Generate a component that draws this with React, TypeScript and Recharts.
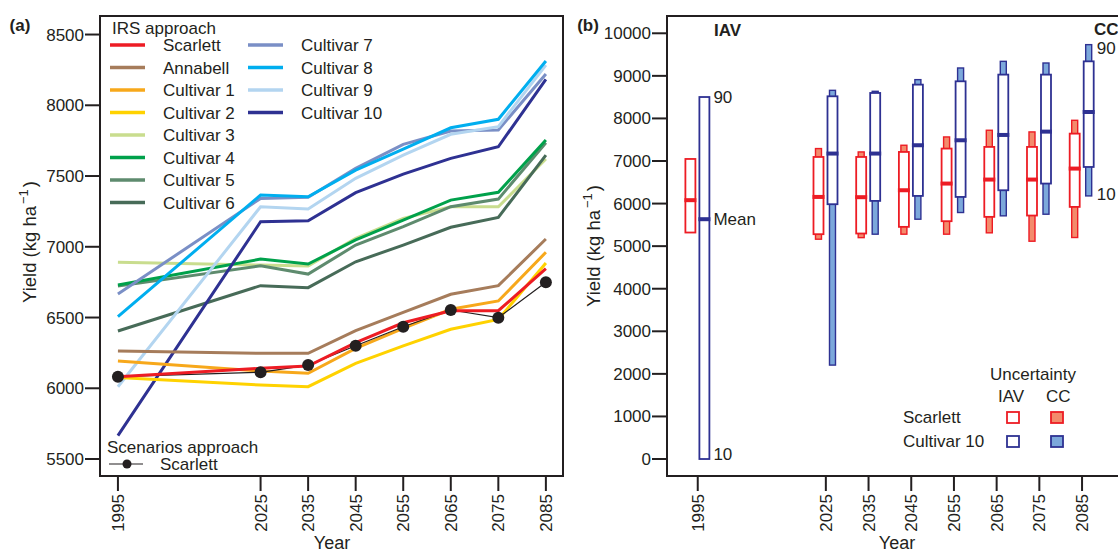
import {
  Bar,
  ComposedChart,
  Legend,
  Line,
  LineChart,
  ReferenceArea,
  XAxis,
  YAxis,
} from 'recharts'

const ink = '#231f20'
const font = '"Liberation Sans", Arial, Helvetica, sans-serif'

const years = [1995, 2025, 2035, 2045, 2055, 2065, 2075, 2085]

// IRS approach, yield per cultivar (kg/ha)
const scarlett = [6082, 6141, 6157, 6322, 6463, 6548, 6548, 6845]
const annabell = [6263, 6247, 6247, 6407, 6537, 6664, 6725, 7055]
const cultivar1 = [6193, 6122, 6106, 6282, 6424, 6558, 6617, 6961]
const cultivar2 = [6077, 6023, 6011, 6176, 6299, 6417, 6487, 6885]
const cultivar3 = [6890, 6871, 6864, 7060, 7201, 7283, 7283, 7620]
const cultivar4 = [6730, 6913, 6878, 7048, 7189, 7330, 7385, 7754]
const cultivar5 = [6722, 6866, 6807, 7012, 7142, 7283, 7337, 7735]
const cultivar6 = [6405, 6725, 6711, 6894, 7012, 7138, 7208, 7648]
const cultivar7 = [6666, 7342, 7350, 7554, 7724, 7818, 7825, 8221]
const cultivar8 = [6506, 7366, 7354, 7542, 7691, 7841, 7901, 8313]
const cultivar9 = [6011, 7283, 7267, 7484, 7648, 7795, 7849, 8284]
const cultivar10 = [5665, 7177, 7184, 7382, 7514, 7625, 7707, 8183]

// scenarios approach, Scarlett
const scenarioScarlett = [6082, 6113, 6164, 6301, 6435, 6553, 6499, 6749]

// uncertainty ranges (10th / 90th percentile) and means
const scarlettIavLow = [5320, 5281, 5297, 5453, 5586, 5688, 5719, 5922]
const scarlettIavHigh = [7048, 7095, 7095, 7213, 7292, 7331, 7331, 7643]
const scarlettMean = [6080, 6156, 6150, 6313, 6470, 6564, 6564, 6822]
const scarlettCcLow = [null, 5163, 5200, 5281, 5281, 5313, 5116, 5203]
const scarlettCcHigh = [null, 7292, 7213, 7370, 7565, 7722, 7683, 7956]

const c10IavLow = [0, 5985, 6063, 6180, 6156, 6313, 6470, 6860]
const c10IavHigh = [8503, 8520, 8598, 8794, 8872, 9029, 9029, 9341]
const c10Mean = [5633, 7175, 7175, 7370, 7487, 7612, 7690, 8151]
const c10CcLow = [null, 2206, 5281, 5633, 5790, 5712, 5750, 6180]
const c10CcHigh = [null, 8660, 8637, 8911, 9185, 9341, 9302, 9733]

const yieldTicksA = [5500, 6000, 6500, 7000, 7500, 8000, 8500]
const yieldTicksB = [0, 1000, 2000, 3000, 4000, 5000, 6000, 7000, 8000, 9000, 10000]

const series = [
  { key: 'scarlett', name: 'Scarlett', color: '#ed1c24', values: scarlett },
  { key: 'annabell', name: 'Annabell', color: '#a67c5b', values: annabell },
  { key: 'cultivar1', name: 'Cultivar 1', color: '#f7a81b', values: cultivar1 },
  { key: 'cultivar2', name: 'Cultivar 2', color: '#ffd200', values: cultivar2 },
  { key: 'cultivar3', name: 'Cultivar 3', color: '#c9dd8e', values: cultivar3 },
  { key: 'cultivar4', name: 'Cultivar 4', color: '#00a14b', values: cultivar4 },
  { key: 'cultivar5', name: 'Cultivar 5', color: '#5e8b6e', values: cultivar5 },
  { key: 'cultivar6', name: 'Cultivar 6', color: '#476b58', values: cultivar6 },
  { key: 'cultivar7', name: 'Cultivar 7', color: '#7a8fc6', values: cultivar7 },
  { key: 'cultivar8', name: 'Cultivar 8', color: '#00aeef', values: cultivar8 },
  { key: 'cultivar9', name: 'Cultivar 9', color: '#b3d5f0', values: cultivar9 },
  { key: 'cultivar10', name: 'Cultivar 10', color: '#2e3192', values: cultivar10 },
]
const drawOrder = [
  'cultivar3', 'cultivar5', 'cultivar6', 'cultivar4', 'cultivar7', 'cultivar9',
  'cultivar8', 'cultivar10', 'annabell', 'cultivar1', 'cultivar2',
]

const lineRows = years.map((year, i) => {
  const row: Record<string, number> = { year, scenario: scenarioScarlett[i] }
  series.forEach((s) => (row[s.key] = s.values[i]))
  return row
})

const boxRows = years.map((year, i) => ({
  year,
  sIav: [scarlettIavLow[i], scarlettIavHigh[i]],
  sMean: scarlettMean[i],
  sCc: scarlettCcLow[i] == null ? null : [scarlettCcLow[i], scarlettCcHigh[i]],
  cIav: [c10IavLow[i], c10IavHigh[i]],
  cMean: c10Mean[i],
  cCc: c10CcLow[i] == null ? null : [c10CcLow[i], c10CcHigh[i]],
}))

const tones = {
  s: { line: '#ed1c24', fill: '#f38b6c' },
  c: { line: '#2e3192', fill: '#7ca8db' },
}

const YearTick = ({ x, y, payload }: any) => (
  <text
    x={x}
    y={y}
    transform={`rotate(-90 ${x} ${y})`}
    textAnchor="end"
    dy="0.36em"
    fontSize={17}
    fill={ink}
    fontFamily={font}
  >
    {payload.value}
  </text>
)

const axisStroke = { stroke: ink, strokeWidth: 2 }
const tickText = { fontSize: 17, fill: ink, fontFamily: font }

// box = IAV range, thin filled bar behind it = CC range, thick bar = mean
function makeBox(prefix: 's' | 'c') {
  const tone = tones[prefix]
  return (props: any) => {
    const { x, y, width, height, payload, index } = props
    const [lo, hi] = payload[prefix + 'Iav']
    const k = height / (hi - lo)
    const py = (v: number) => y + (hi - v) * k
    const cx = x + width / 2
    const cc = payload[prefix + 'Cc']
    const mean = payload[prefix + 'Mean']
    const last = index === years.length - 1
    return (
      <g>
        {cc && (
          <rect
            x={cx - 3}
            y={py(cc[1])}
            width={6}
            height={py(cc[0]) - py(cc[1])}
            fill={tone.fill}
            stroke={tone.line}
            strokeWidth={1.4}
          />
        )}
        <rect
          x={x + 1}
          y={y}
          width={width - 2}
          height={height}
          fill="#fff"
          stroke={tone.line}
          strokeWidth={1.8}
        />
        <rect x={x} y={py(mean) - 2} width={width} height={4} fill={tone.line} />
        {prefix === 'c' && index === 0 && (
          <g fontSize={17} fill={ink} fontFamily={font}>
            <text x={x + width + 3} y={py(hi)} dy="0.36em">90</text>
            <text x={x + width + 3} y={py(mean)} dy="0.36em">Mean</text>
            <text x={x + width + 3} y={py(lo) - 5} dy="0.36em">10</text>
          </g>
        )}
        {prefix === 'c' && last && cc && (
          <g fontSize={17} fill={ink} fontFamily={font}>
            <text x={x + width + 2} y={py(cc[1]) + 3} dy="0.36em">90</text>
            <text x={x + width + 2} y={py(cc[0]) - 2} dy="0.36em">10</text>
          </g>
        )}
      </g>
    )
  }
}

function IrsLegend() {
  const col1 = series.slice(0, 8)
  const col2 = series.slice(8)
  const rowY = (i: number) => 45 + i * 22.5
  return (
    <svg width={580} height={554} style={{ display: 'block' }} fontFamily={font} fontSize={17} fill={ink}>
      <text x={112} y={28} dy="0.36em">IRS approach</text>
      {col1.map((s, i) => (
        <g key={s.key}>
          <line x1={110} x2={145} y1={rowY(i)} y2={rowY(i)} stroke={s.color} strokeWidth={3.5} />
          <text x={163} y={rowY(i)} dy="0.36em">{s.name}</text>
        </g>
      ))}
      {col2.map((s, i) => (
        <g key={s.key}>
          <line x1={248} x2={283} y1={rowY(i)} y2={rowY(i)} stroke={s.color} strokeWidth={3.5} />
          <text x={301} y={rowY(i)} dy="0.36em">{s.name}</text>
        </g>
      ))}
      <text x={107} y={447} dy="0.36em">Scenarios approach</text>
      <line x1={109} x2={143} y1={464} y2={464} stroke={ink} strokeWidth={1.2} />
      <circle cx={127} cy={464} r={4.5} fill={ink} />
      <text x={160} y={464} dy="0.36em">Scarlett</text>
    </svg>
  )
}

function UncertaintyLegend() {
  const ox = 580
  return (
    <svg width={560} height={554} style={{ display: 'block' }} fontFamily={font} fontSize={17} fill={ink}>
      <text x={714 - ox} y={30} dy="0.36em" fontWeight="bold">IAV</text>
      <text x={1094 - ox} y={29} dy="0.36em" fontWeight="bold">CC</text>
      <text x={990 - ox} y={374} dy="0.36em">Uncertainty</text>
      <text x={998 - ox} y={396} dy="0.36em">IAV</text>
      <text x={1046 - ox} y={396} dy="0.36em">CC</text>
      <text x={903 - ox} y={417} dy="0.36em">Scarlett</text>
      <text x={903 - ox} y={441} dy="0.36em">Cultivar 10</text>
      <rect x={1007 - ox} y={412} width={12} height={11} fill="#fff" stroke={tones.s.line} strokeWidth={1.8} />
      <rect x={1051 - ox} y={412} width={12} height={11} fill={tones.s.fill} stroke={tones.s.line} strokeWidth={1.8} />
      <rect x={1007 - ox} y={436} width={12} height={11} fill="#fff" stroke={tones.c.line} strokeWidth={1.8} />
      <rect x={1051 - ox} y={436} width={12} height={11} fill={tones.c.fill} stroke={tones.c.line} strokeWidth={1.8} />
    </svg>
  )
}

function Note({ x, y, children, bold, rotate, size = 17 }: any) {
  return (
    <div
      style={{
        position: 'absolute',
        left: x,
        top: y,
        transform: `translate(-50%, -50%)${rotate ? ' rotate(-90deg)' : ''}`,
        whiteSpace: 'nowrap',
        fontFamily: font,
        fontSize: size,
        fontWeight: bold ? 'bold' : 'normal',
        color: ink,
        lineHeight: 1,
      }}
    >
      {children}
    </div>
  )
}

const yieldLabel = (
  <>
    Yield (kg ha
    <sup style={{ fontSize: 13, verticalAlign: '0.65em', lineHeight: 0, margin: '0 2px' }}>−1</sup>)
  </>
)

const xDomA: [number, number] = [1991.23, 2088.6]
const yDomA: [number, number] = [5380, 8631]
const xDomB: [number, number] = [1987.8, 2095.06]
const yDomB: [number, number] = [-399, 10406]

export default function App() {
  const byKey = Object.fromEntries(series.map((s) => [s.key, s]))
  return (
    <div
      style={{
        position: 'absolute',
        left: 0,
        top: 0,
        width: 1118,
        height: 554,
        overflow: 'hidden',
        background: '#fff',
      }}
    >
      <div style={{ position: 'absolute', left: 0, top: 0 }}>
        <LineChart
          width={580}
          height={554}
          data={lineRows}
          margin={{ top: 16, right: 17, bottom: 0, left: 0 }}
          style={{ fontFamily: font }}
        >
          <XAxis
            dataKey="year"
            type="number"
            domain={xDomA}
            ticks={years}
            interval={0}
            height={78}
            tickSize={15}
            tickMargin={3}
            axisLine={axisStroke}
            tickLine={axisStroke}
            tick={<YearTick />}
          />
          <YAxis
            type="number"
            domain={yDomA}
            ticks={yieldTicksA}
            interval={0}
            width={100}
            tickSize={15}
            tickMargin={1}
            axisLine={axisStroke}
            tickLine={axisStroke}
            tick={tickText}
          />
          <ReferenceArea
            x1={xDomA[0]}
            x2={xDomA[1]}
            y1={yDomA[0]}
            y2={yDomA[1]}
            fill="none"
            stroke={ink}
            strokeWidth={2}
            ifOverflow="visible"
          />
          {drawOrder.map((k) => (
            <Line
              key={k}
              type="linear"
              dataKey={k}
              stroke={byKey[k].color}
              strokeWidth={3}
              dot={false}
              isAnimationActive={false}
            />
          ))}
          <Line
            type="linear"
            dataKey="scenario"
            stroke={ink}
            strokeWidth={1.2}
            dot={{ r: 6, fill: ink, stroke: ink, strokeWidth: 0 }}
            isAnimationActive={false}
          />
          <Line
            type="linear"
            dataKey="scarlett"
            stroke={byKey.scarlett.color}
            strokeWidth={3}
            dot={false}
            isAnimationActive={false}
          />
          <Legend
            layout="vertical"
            align="center"
            verticalAlign="middle"
            wrapperStyle={{ left: 0, top: 0, width: 580, height: 554 }}
            content={() => <IrsLegend />}
          />
        </LineChart>
      </div>

      <div style={{ position: 'absolute', left: 580, top: 0 }}>
        <ComposedChart
          width={560}
          height={554}
          data={boxRows}
          margin={{ top: 16, right: 15, bottom: 0, left: 0 }}
          barSize={12}
          barGap={2}
          style={{ fontFamily: font }}
        >
          <XAxis
            dataKey="year"
            type="number"
            domain={xDomB}
            ticks={years}
            interval={0}
            height={78}
            tickSize={15}
            tickMargin={3}
            axisLine={axisStroke}
            tickLine={axisStroke}
            tick={<YearTick />}
          />
          <YAxis
            type="number"
            domain={yDomB}
            ticks={yieldTicksB}
            interval={0}
            width={87}
            tickSize={15}
            tickMargin={1}
            axisLine={axisStroke}
            tickLine={axisStroke}
            tick={tickText}
          />
          <ReferenceArea
            x1={xDomB[0]}
            x2={xDomB[1]}
            y1={yDomB[0]}
            y2={yDomB[1]}
            fill="none"
            stroke={ink}
            strokeWidth={2}
            ifOverflow="visible"
          />
          <Bar dataKey="sIav" shape={makeBox('s')} isAnimationActive={false} />
          <Bar dataKey="cIav" shape={makeBox('c')} isAnimationActive={false} />
          <Legend
            layout="vertical"
            align="center"
            verticalAlign="middle"
            wrapperStyle={{ left: 0, top: 0, width: 560, height: 554 }}
            content={() => <UncertaintyLegend />}
          />
        </ComposedChart>
      </div>

      <Note x={20} y={25} bold>(a)</Note>
      <Note x={588} y={25} bold>(b)</Note>
      <Note x={30} y={242} rotate size={18.5}>{yieldLabel}</Note>
      <Note x={594} y={246} rotate size={18.5}>{yieldLabel}</Note>
      <Note x={332} y={543} size={18}>Year</Note>
      <Note x={897} y={543} size={18}>Year</Note>
    </div>
  )
}
